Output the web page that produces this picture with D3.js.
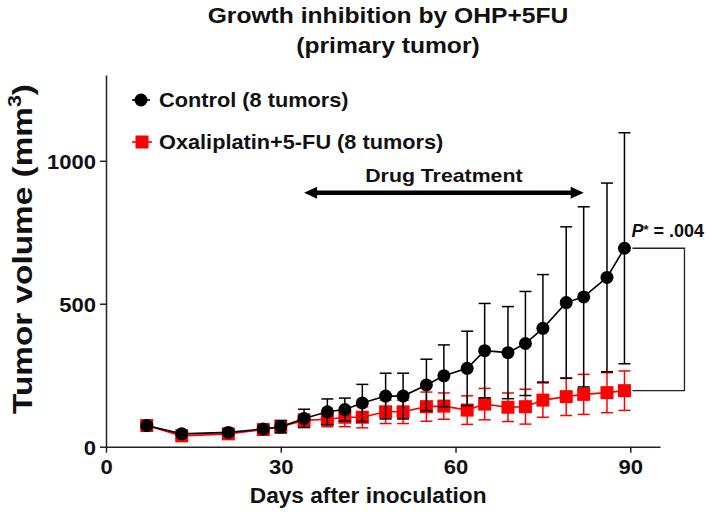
<!DOCTYPE html>
<html>
<head>
<meta charset="utf-8">
<script src="https://cdn.jsdelivr.net/npm/d3@7"></script>
<style>
  body { margin: 0; background: #fff; }
  text { font-family: "Liberation Sans", Arial, sans-serif; font-weight: bold; fill: #111; }
</style>
</head>
<body>
<svg id="chart" width="709" height="512"></svg>
<script>
// days of measurement
const days = [7, 13, 21, 27, 30, 34, 38, 41, 44, 48, 51, 55, 58, 62, 65, 69, 72, 75, 79, 82, 86, 89];

// Control group, mean and error
const controlMean = [74, 45, 50, 62, 70, 99, 122, 130, 153, 177, 177, 216, 248, 274, 336, 329, 361, 414, 504, 524, 592, 694];
const controlErr = [8, 6, 8, 10, 22, 32, 45, 40, 65, 80, 80, 90, 108, 130, 165, 161, 182, 188, 265, 315, 330, 404];

// Oxaliplatin+5-FU group, mean and error
const oxaliMean = [74, 38, 45, 60, 70, 92, 96, 103, 103, 122, 122, 140, 142, 128, 149, 138, 140, 163, 175, 183, 189, 196];
const oxaliErr = [10, 8, 8, 10, 15, 22, 26, 33, 37, 41, 41, 51, 46, 50, 55, 50, 61, 60, 66, 70, 70, 69];

const xTicks = [0, 30, 60, 90];
const yTicks = [0, 500, 1000];
const treatment = [34, 82];   // drug treatment window (days)
const treatLevel = 888;       // height of the arrow (mm3)

const svg = d3.select('#chart');
const RED = '#ff0000';

const x = d3.scaleLinear().domain([0, 95.1]).range([106, 660]);
const y = d3.scaleLinear().domain([0, 1300]).range([446.7, 75]);

// widen glyphs a little, the source font is broader than Arial
function stretch(sel, k) {
	sel.each(function () {
		const w = this.getComputedTextLength();
		d3.select(this).attr('textLength', w * k).attr('lengthAdjust', 'spacingAndGlyphs');
	});
}

// title
const title = svg.append('text')
	.attr('text-anchor', 'middle')
	.style('font-size', '22px');
title.append('tspan').attr('x', 388).attr('y', 23).text('Growth inhibition by OHP+5FU');
title.append('tspan').attr('x', 388).attr('y', 53).text('(primary tumor)');
stretch(title.selectAll('tspan'), 1.12);

// axes
const xAxis = svg.append('g')
	.attr('transform', `translate(0,${y(0)})`)
	.call(d3.axisBottom(x).tickValues(xTicks).tickSize(6).tickSizeOuter(0).tickPadding(6));
const yAxis = svg.append('g')
	.attr('transform', `translate(${x(0)},0)`)
	.call(d3.axisLeft(y).tickValues(yTicks).tickFormat(d3.format('d'))
		.tickSize(6).tickSizeOuter(0).tickPadding(4));

[xAxis, yAxis].forEach((ax) => {
	ax.select('.domain').attr('stroke', '#222').attr('stroke-width', 1.5);
	ax.selectAll('.tick line').attr('stroke', '#222').attr('stroke-width', 1.5);
	ax.selectAll('.tick text')
		.attr('fill', '#111')
		.style('font-size', '21px')
		.style('font-family', '"Liberation Sans", Arial, sans-serif')
		.style('font-weight', 'bold');
	stretch(ax.selectAll('.tick text'), 1.05);
});
yAxis.selectAll('.tick text').attr('dy', '0.36em');

// axis labels
const xLabel = svg.append('text')
	.attr('x', x(45))
	.attr('y', 503)
	.attr('text-anchor', 'middle')
	.style('font-size', '22px')
	.text('Days after inoculation');
stretch(xLabel, 1.03);

const yLabel = svg.append('text')
	.attr('transform', 'translate(32,249) rotate(-90)')
	.attr('text-anchor', 'middle')
	.style('font-size', '28px');
yLabel.append('tspan').text('Tumor volume (mm');
yLabel.append('tspan').attr('dy', -11).style('font-size', '18px').text('3');
yLabel.append('tspan').attr('dy', 11).text(')');
yLabel.each(function () {
	d3.select(this).attr('textLength', 330).attr('lengthAdjust', 'spacingAndGlyphs');
});

// series drawing
function drawSeries(mean, err, color, marker) {
	const g = svg.append('g');
	const pts = days.map((d, i) => ({ d, m: mean[i], e: err[i] }));

	const bars = g.selectAll('.err').data(pts).enter().append('g').attr('class', 'err')
		.attr('stroke', color).attr('stroke-width', 1.5);
	bars.append('line')
		.attr('x1', (p) => x(p.d)).attr('x2', (p) => x(p.d))
		.attr('y1', (p) => y(p.m - p.e)).attr('y2', (p) => y(p.m + p.e));
	bars.append('line')
		.attr('x1', (p) => x(p.d) - 6).attr('x2', (p) => x(p.d) + 6)
		.attr('y1', (p) => y(p.m + p.e)).attr('y2', (p) => y(p.m + p.e));
	bars.append('line')
		.attr('x1', (p) => x(p.d) - 6).attr('x2', (p) => x(p.d) + 6)
		.attr('y1', (p) => y(p.m - p.e)).attr('y2', (p) => y(p.m - p.e));

	const line = d3.line().x((p) => x(p.d)).y((p) => y(p.m));
	g.append('path').datum(pts)
		.attr('d', line).attr('fill', 'none')
		.attr('stroke', color).attr('stroke-width', 1.6);

	if (marker === 'circle') {
		g.selectAll('.pt').data(pts).enter().append('circle')
			.attr('cx', (p) => x(p.d)).attr('cy', (p) => y(p.m)).attr('r', 6.5)
			.attr('fill', color);
	} else {
		g.selectAll('.pt').data(pts).enter().append('rect')
			.attr('x', (p) => x(p.d) - 6.5).attr('y', (p) => y(p.m) - 6.5)
			.attr('width', 13).attr('height', 13)
			.attr('fill', color);
	}
}

drawSeries(oxaliMean, oxaliErr, RED, 'square');
drawSeries(controlMean, controlErr, '#000', 'circle');

// legend
const legend = svg.append('g');
legend.append('line').attr('x1', 132).attr('x2', 150).attr('y1', 100).attr('y2', 100)
	.attr('stroke', '#000').attr('stroke-width', 1.6);
legend.append('circle').attr('cx', 141).attr('cy', 100).attr('r', 6.5).attr('fill', '#000');
legend.append('line').attr('x1', 132).attr('x2', 152).attr('y1', 142).attr('y2', 142)
	.attr('stroke', RED).attr('stroke-width', 1.6);
legend.append('rect').attr('x', 135.5).attr('y', 135.5).attr('width', 13).attr('height', 13).attr('fill', RED);
const lt1 = legend.append('text').attr('x', 159).attr('y', 107).style('font-size', '20.5px').text('Control (8 tumors)');
const lt2 = legend.append('text').attr('x', 159).attr('y', 149).style('font-size', '20.5px').text('Oxaliplatin+5-FU (8 tumors)');
stretch(lt1, 1.06);
stretch(lt2, 1.06);

// drug treatment arrow
const ay = y(treatLevel);
const ax1 = x(treatment[0]);
const ax2 = x(treatment[1]);
svg.append('line')
	.attr('x1', ax1 + 8).attr('x2', ax2 - 8).attr('y1', ay).attr('y2', ay)
	.attr('stroke', '#000').attr('stroke-width', 4.5);
svg.append('path')
	.attr('d', `M${ax1},${ay} L${ax1 + 13},${ay - 6} L${ax1 + 13},${ay + 6} Z`)
	.attr('fill', '#000');
svg.append('path')
	.attr('d', `M${ax2},${ay} L${ax2 - 13},${ay - 6} L${ax2 - 13},${ay + 6} Z`)
	.attr('fill', '#000');
const drug = svg.append('text')
	.attr('x', (ax1 + ax2) / 2)
	.attr('y', ay - 11)
	.attr('text-anchor', 'middle')
	.style('font-size', '19px')
	.text('Drug Treatment');
stretch(drug, 1.12);

// significance bracket
const last = days.length - 1;
const bx = x(days[last]);
const bTop = y(controlMean[last]);
const bBot = y(oxaliMean[last]);
svg.append('path')
	.attr('d', `M${bx + 8},${bTop} H${bx + 60} V${bBot} H${bx + 8}`)
	.attr('fill', 'none').attr('stroke', '#222').attr('stroke-width', 1.3);

const pText = svg.append('text')
	.attr('x', bx + 7)
	.attr('y', bTop - 11)
	.style('font-size', '18px');
pText.append('tspan').style('font-style', 'italic').text('P');
pText.append('tspan').attr('dy', -3).style('font-size', '13px').text('*');
pText.append('tspan').attr('dy', 3).text(' = .004');
</script>
</body>
</html>
